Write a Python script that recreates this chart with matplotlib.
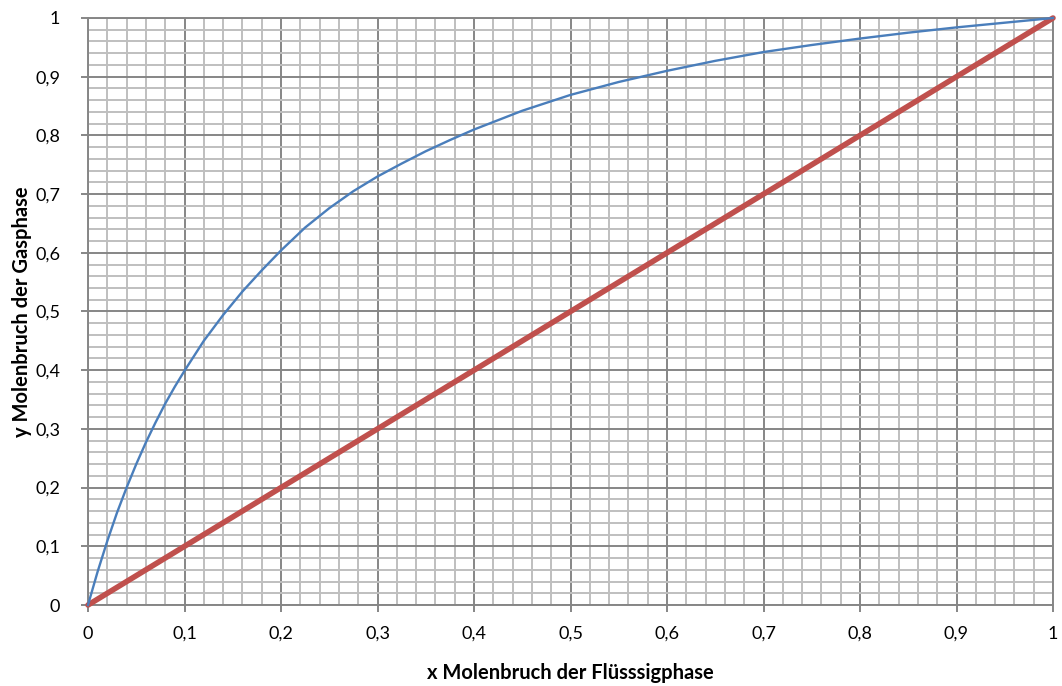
import matplotlib
matplotlib.use("Agg")
import matplotlib.pyplot as plt
from matplotlib.ticker import MultipleLocator, FuncFormatter

# Equilibrium curve: liquid mole fraction x vs. vapour mole fraction y
x_liquid = [0.0, 0.01, 0.02, 0.03, 0.04, 0.05, 0.06, 0.07, 0.08, 0.09, 0.1,
            0.12, 0.14, 0.16, 0.18, 0.2, 0.225, 0.25, 0.275, 0.3, 0.325, 0.35,
            0.375, 0.4, 0.45, 0.5, 0.55, 0.6, 0.65, 0.7, 0.75, 0.8, 0.85, 0.9,
            0.95, 1.0]
y_vapour = [0.0, 0.057, 0.109, 0.157, 0.200, 0.240, 0.277, 0.311, 0.343, 0.372, 0.399,
            0.450, 0.494, 0.534, 0.570, 0.604, 0.643, 0.676, 0.705, 0.730, 0.752, 0.773,
            0.792, 0.810, 0.842, 0.869, 0.891, 0.910, 0.927, 0.942, 0.954, 0.965, 0.975, 0.984,
            0.992, 1.0]

# Diagonal y = x
diag_x = [0.0, 1.0]
diag_y = [0.0, 1.0]

x_label = "x Molenbruch der Flüsssigphase"
y_label = "y Molenbruch der Gasphase"

plt.rcParams['font.family'] = ['Lato', 'DejaVu Sans']

fig = plt.figure(figsize=(10.62, 6.86), dpi=100)
ax = fig.add_axes([88 / 1062, 81 / 686, 965 / 1062, 587 / 686])

ax.set_xlim(0, 1)
ax.set_ylim(0, 1)

ax.xaxis.set_major_locator(MultipleLocator(0.1))
ax.yaxis.set_major_locator(MultipleLocator(0.1))
ax.xaxis.set_minor_locator(MultipleLocator(0.02))
ax.yaxis.set_minor_locator(MultipleLocator(0.02))

ax.grid(which='minor', color='#bfbfbf', linewidth=1.4, zorder=0)
ax.grid(which='major', color='#868686', linewidth=1.4, zorder=0)
ax.set_axisbelow(True)

def comma_fmt(v, pos):
    if abs(v - round(v)) < 1e-9:
        return f"{int(round(v))}"
    return f"{v:.1f}".replace('.', ',')

ax.xaxis.set_major_formatter(FuncFormatter(comma_fmt))
ax.yaxis.set_major_formatter(FuncFormatter(comma_fmt))

ax.tick_params(which='major', direction='out', length=5, width=1.4, color='#868686',
               labelsize=13, labelcolor='#000000')
ax.tick_params(axis='y', which='major', pad=15)
ax.tick_params(axis='x', which='major', pad=10)
ax.tick_params(which='minor', length=0)

for side, sp in ax.spines.items():
    sp.set_color('#868686')
    sp.set_linewidth(1.4)

ax.plot(diag_x, diag_y, color='#c0504d', linewidth=4.0, solid_capstyle='round',
        zorder=3, clip_on=False)
ax.plot(x_liquid, y_vapour, color='#4a7ebb', linewidth=1.7, zorder=4, clip_on=False,
        solid_joinstyle='round')

ax.set_xlabel(x_label, fontsize=14.5, fontweight='bold', labelpad=15)
ax.set_ylabel(y_label, fontsize=14.5, fontweight='bold', labelpad=2)

fig.savefig("out.png", dpi=100)
